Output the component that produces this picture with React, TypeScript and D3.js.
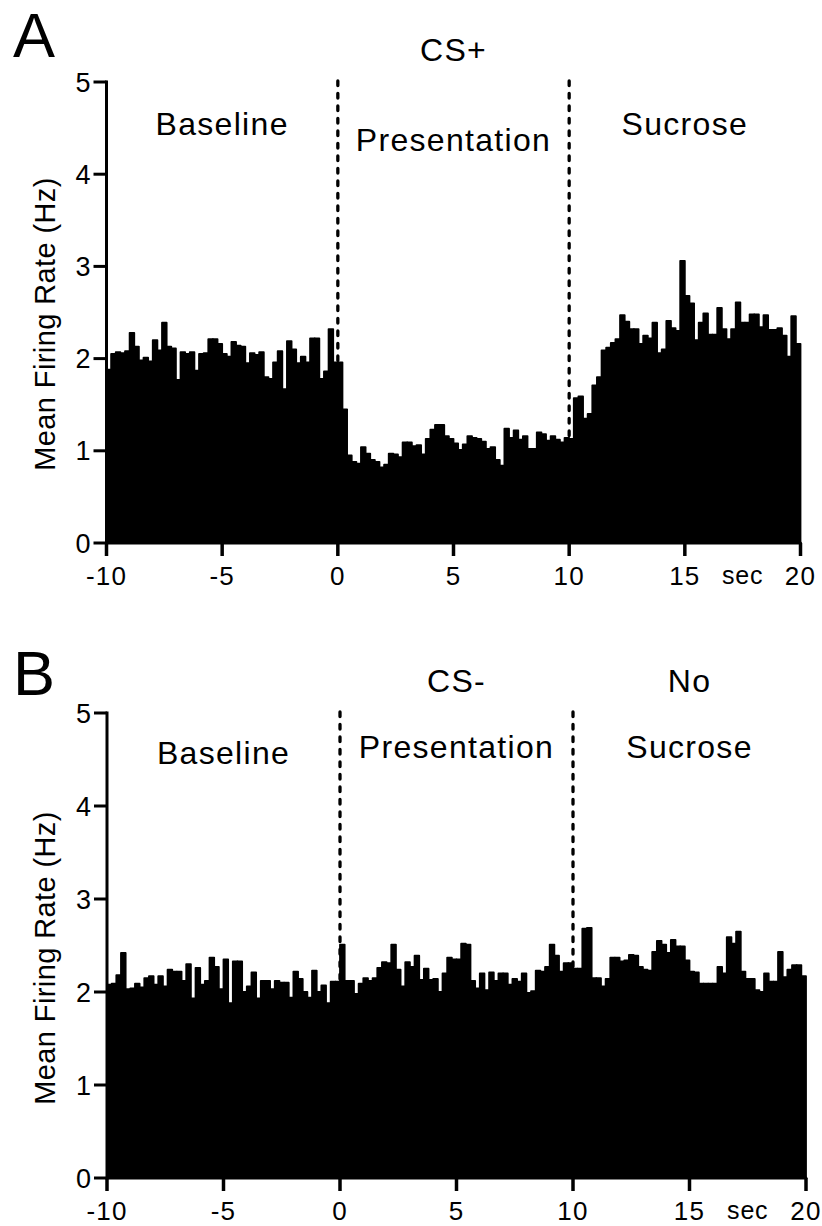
import React from "react";
import * as d3 from "d3";

// ---- Data (bin starts in seconds, 0.2 s bins from -10 to 20) ----
const BIN_WIDTH = 0.2;
const binStarts = d3.range(150).map((i) => -10 + i * BIN_WIDTH);

const ratesA = [
  1.88, 2.05, 2.07, 2.06, 2.08, 2.28, 2.13, 1.98, 2.01, 1.97,
  2.20, 2.09, 2.39, 2.13, 2.11, 1.77, 2.07, 2.05, 2.07, 1.87,
  2.05, 2.06, 2.21, 2.21, 2.16, 2.05, 2.02, 2.18, 2.14, 2.13,
  1.95, 2.06, 2.04, 2.07, 1.80, 1.78, 1.96, 2.08, 1.67, 2.19,
  2.10, 1.95, 2.02, 1.96, 2.22, 2.22, 1.78, 1.86, 2.32, 1.96,
  1.96, 1.45, 0.95, 0.88, 0.86, 1.04, 0.97, 0.90, 0.88, 0.82,
  0.85, 0.97, 0.96, 0.93, 1.09, 1.09, 1.05, 1.06, 0.96, 1.13,
  1.23, 1.28, 1.28, 1.16, 1.13, 1.08, 1.01, 1.07, 1.16, 1.14,
  1.13, 1.10, 1.02, 1.04, 0.90, 0.84, 1.24, 1.14, 1.22, 1.12,
  1.16, 1.02, 1.02, 1.20, 1.18, 1.11, 1.16, 1.12, 1.09, 1.14,
  1.13, 1.57, 1.59, 1.35, 1.40, 1.71, 1.80, 2.09, 2.12, 2.17,
  2.21, 2.47, 2.40, 2.32, 2.32, 2.16, 2.25, 2.22, 2.39, 2.06,
  2.10, 2.41, 2.33, 2.30, 3.06, 2.68, 2.60, 2.20, 2.39, 2.49,
  2.26, 2.26, 2.55, 2.32, 2.21, 2.32, 2.61, 2.39, 2.39, 2.48,
  2.48, 2.34, 2.47, 2.31, 2.31, 2.33, 2.25, 2.02, 2.46, 2.16,
];

const ratesB = [
  2.08, 2.09, 2.18, 2.42, 2.03, 2.04, 2.09, 2.05, 2.15, 2.17,
  2.08, 2.17, 2.06, 2.24, 2.22, 2.22, 2.12, 2.30, 1.93, 2.26,
  2.08, 2.12, 2.37, 2.27, 2.03, 2.35, 1.88, 2.33, 2.33, 2.00,
  2.06, 2.21, 1.93, 2.12, 2.12, 2.03, 2.12, 2.10, 2.10, 1.94,
  2.22, 2.14, 2.00, 1.94, 2.23, 2.00, 2.07, 1.88, 2.11, 2.11,
  2.51, 2.12, 2.12, 1.98, 2.09, 2.15, 2.12, 2.15, 2.26, 2.32,
  2.31, 2.51, 2.24, 2.06, 2.32, 2.27, 2.39, 2.13, 2.25, 2.13,
  2.14, 2.00, 2.20, 2.37, 2.35, 2.35, 2.52, 2.51, 2.12, 2.04,
  2.20, 2.02, 2.21, 2.12, 2.20, 2.20, 2.08, 2.14, 2.11, 2.20,
  1.99, 2.01, 2.23, 2.22, 2.27, 2.51, 2.39, 2.22, 2.31, 2.31,
  2.25, 2.25, 2.68, 2.69, 2.15, 2.15, 2.06, 2.14, 2.37, 2.37,
  2.33, 2.34, 2.40, 2.39, 2.27, 2.24, 2.23, 2.43, 2.55, 2.51,
  2.42, 2.56, 2.49, 2.49, 2.34, 2.22, 2.21, 2.09, 2.09, 2.09,
  2.09, 2.27, 2.20, 2.59, 2.52, 2.65, 2.22, 2.14, 2.14, 2.02,
  2.00, 2.20, 2.11, 2.11, 2.43, 2.16, 2.24, 2.29, 2.29, 2.17,
];

const xTicks = [-10, -5, 0, 5, 10, 15, 20];
const yTicks = [0, 1, 2, 3, 4, 5];
const eventTimes = [0, 10];

const labelsA = [
  { lines: ["Baseline"], t: -5 },
  { lines: ["CS+", "Presentation"], t: 5 },
  { lines: ["Sucrose"], t: 15 },
];
const labelsB = [
  { lines: ["Baseline"], t: -5 },
  { lines: ["CS-", "Presentation"], t: 5 },
  { lines: ["No", "Sucrose"], t: 15 },
];

const FONT = "'Liberation Sans', Arial, Helvetica, sans-serif";

type PanelProps = {
  letter: string;
  rates: number[];
  labels: { lines: string[]; t: number }[];
  x0: number;
  x1: number;
  yTop: number;
  yBottom: number;
  letterY: number;
  labelRows: { single: number; first: number; second: number };
  titleCenter: number;
};

function Panel(p: PanelProps) {
  const x = d3.scaleLinear().domain([-10, 20]).range([p.x0, p.x1]);
  const y = d3.scaleLinear().domain([0, 5]).range([p.yBottom, p.yTop]);
  const labelStyle = {
    fontSize: 32,
    textAnchor: "middle" as const,
    fontFamily: FONT,
    letterSpacing: 1.3,
    fill: "#000",
  };

  return (
    <g>
      <text x={13} y={p.letterY} fontSize={63} fontFamily={FONT} fill="#000">
        {p.letter}
      </text>

      {/* bars */}
      <g>
        {p.rates.map((v, i) => {
          const t = binStarts[i];
          const xa = x(t);
          const xb = x(t + BIN_WIDTH);
          return (
            <rect
              key={i}
              x={xa}
              y={y(v)}
              width={xb - xa}
              height={y(0) - y(v)}
              fill="#000"
              stroke="#000"
              strokeWidth={1.8}
              strokeLinejoin="round"
            />
          );
        })}
      </g>

      {/* event lines */}
      {eventTimes.map((t) => (
        <line
          key={t}
          x1={x(t)}
          x2={x(t)}
          y1={y(5) - 1}
          y2={y(0)}
          stroke="#000"
          strokeWidth={3.3}
          strokeDasharray="4.5 8"
          strokeLinecap="round"
        />
      ))}

      {/* y axis */}
      <line x1={x(-10)} x2={x(-10)} y1={y(5)} y2={y(0)} stroke="#000" strokeWidth={3} strokeLinecap="square" />
      {yTicks.map((v) => (
        <g key={v}>
          <line x1={x(-10) - 13} x2={x(-10)} y1={y(v)} y2={y(v)} stroke="#000" strokeWidth={3} />
          <text
            x={x(-10) - 16}
            y={y(v) + 9.5}
            fontSize={27}
            textAnchor="end"
            fontFamily={FONT}
            fill="#000"
          >
            {v}
          </text>
        </g>
      ))}

      {/* x axis */}
      <line x1={x(-10)} x2={x(20)} y1={y(0)} y2={y(0)} stroke="#000" strokeWidth={3} strokeLinecap="round" />
      {xTicks.map((t) => (
        <g key={t}>
          <line x1={x(t)} x2={x(t)} y1={y(0)} y2={y(0) + 13} stroke="#000" strokeWidth={3.5} />
          <text
            x={x(t)}
            y={y(0) + 42}
            fontSize={26}
            textAnchor="middle"
            fontFamily={FONT}
            letterSpacing={1.2}
            fill="#000"
          >
            {t}
          </text>
        </g>
      ))}
      <text
        x={(x(15) + x(20)) / 2}
        y={y(0) + 41}
        fontSize={25}
        textAnchor="middle"
        fontFamily={FONT}
        letterSpacing={0.8}
        fill="#000"
      >
        sec
      </text>

      {/* y title */}
      <text
        transform={`translate(55,${p.titleCenter}) rotate(-90)`}
        fontSize={29}
        textAnchor="middle"
        fontFamily={FONT}
        letterSpacing={0.4}
        fill="#000"
      >
        Mean Firing Rate (Hz)
      </text>

      {/* section labels */}
      {p.labels.map((l, i) =>
        l.lines.length === 1 ? (
          <text key={i} x={x(l.t)} y={p.labelRows.single} {...labelStyle}>
            {l.lines[0]}
          </text>
        ) : (
          <g key={i}>
            <text x={x(l.t)} y={p.labelRows.first} {...labelStyle}>
              {l.lines[0]}
            </text>
            <text x={x(l.t)} y={p.labelRows.second} {...labelStyle}>
              {l.lines[1]}
            </text>
          </g>
        )
      )}
    </g>
  );
}

export default function App() {
  return (
    <svg
      width={822}
      height={1226}
      viewBox="0 0 822 1226"
      style={{ position: "absolute", left: 0, top: 0, background: "#fff" }}
    >
      <rect width={822} height={1226} fill="#fff" />
      <Panel
        letter="A"
        rates={ratesA}
        labels={labelsA}
        x0={106.5}
        x1={800.5}
        yTop={82}
        yBottom={543}
        letterY={57}
        labelRows={{ single: 135, first: 61, second: 151 }}
        titleCenter={324}
      />
      <Panel
        letter="B"
        rates={ratesB}
        labels={labelsB}
        x0={107}
        x1={806}
        yTop={713}
        yBottom={1178}
        letterY={695}
        labelRows={{ single: 764, first: 692, second: 758 }}
        titleCenter={958}
      />
    </svg>
  );
}
